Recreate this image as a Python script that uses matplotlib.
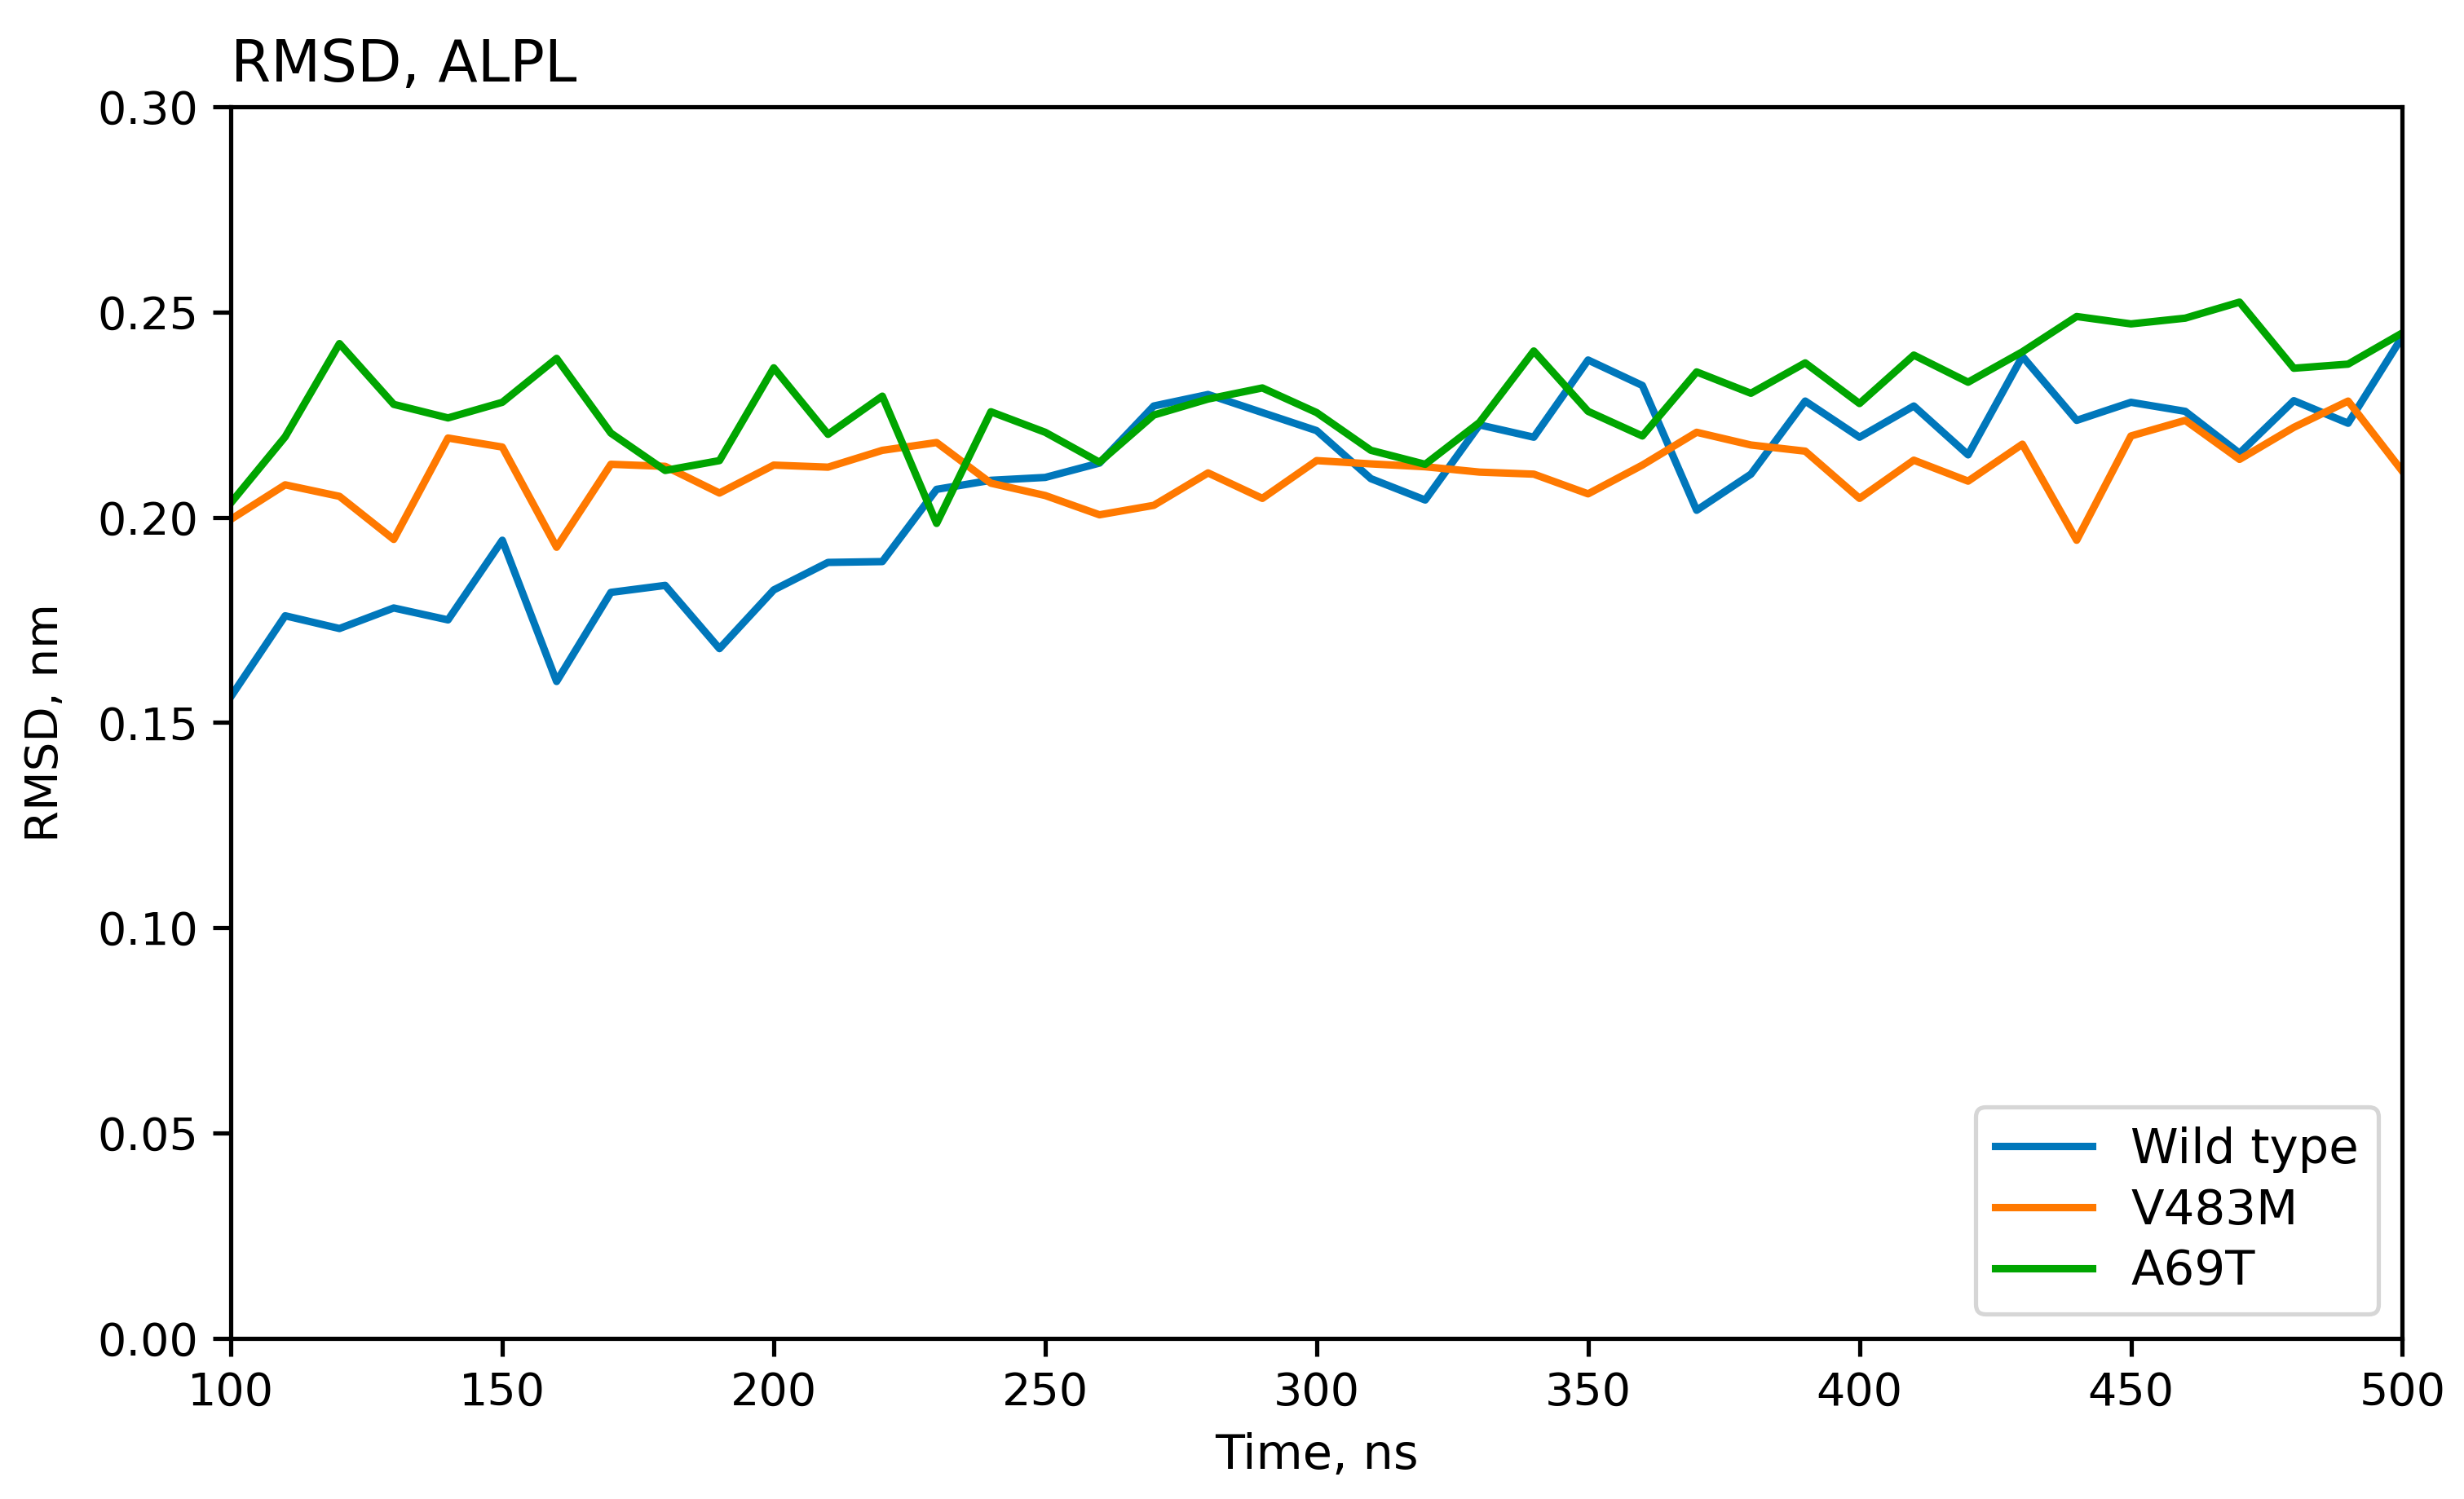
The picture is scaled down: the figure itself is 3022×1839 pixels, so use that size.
import numpy as np
import matplotlib
matplotlib.use("Agg")
import matplotlib.pyplot as plt

time_ns = list(range(100, 501, 10))

wild_type = [0.1563, 0.1760, 0.1729, 0.1779, 0.1750, 0.1944, 0.1600, 0.1817, 0.1834, 0.1680,
             0.1823, 0.1890, 0.1892, 0.2068, 0.2090, 0.2097, 0.2132, 0.2271, 0.2299, 0.2255,
             0.2211, 0.2094, 0.2042, 0.2225, 0.2195, 0.2383, 0.2321, 0.2017, 0.2105, 0.2283,
             0.2195, 0.2271, 0.2152, 0.2392, 0.2236, 0.2280, 0.2258, 0.2156, 0.2284, 0.2229,
             0.2440]

v483m = [0.1995, 0.2079, 0.2051, 0.1946, 0.2193, 0.2171, 0.1927, 0.2129, 0.2124, 0.2059,
         0.2127, 0.2122, 0.2163, 0.2182, 0.2083, 0.2053, 0.2006, 0.2029, 0.2108, 0.2046,
         0.2138, 0.2130, 0.2123, 0.2110, 0.2105, 0.2057, 0.2127, 0.2207, 0.2176, 0.2161,
         0.2046, 0.2139, 0.2088, 0.2178, 0.1944, 0.2198, 0.2236, 0.2141, 0.2219, 0.2283,
         0.2112]

a69t = [0.2035, 0.2196, 0.2423, 0.2275, 0.2242, 0.2280, 0.2387, 0.2205, 0.2114, 0.2138,
        0.2364, 0.2202, 0.2295, 0.1985, 0.2257, 0.2207, 0.2134, 0.2249, 0.2288, 0.2315,
        0.2255, 0.2163, 0.2129, 0.2231, 0.2405, 0.2258, 0.2198, 0.2354, 0.2302, 0.2376,
        0.2277, 0.2395, 0.2329, 0.2403, 0.2489, 0.2471, 0.2485, 0.2524, 0.2363, 0.2373,
        0.2449]

labels = ["Wild type", "V483M", "A69T"]
colors = ["#0077BB", "#FF7900", "#00A500"]

fig = plt.figure(figsize=(3022 / 375, 1839 / 375), dpi=375)
ax = fig.add_axes([0.0937, 0.1072, 0.975 - 0.0937, 0.9288 - 0.1072])

for series, lab, col in zip([wild_type, v483m, a69t], labels, colors):
    ax.plot(time_ns, series, label=lab, color=col, linewidth=1.75)

ax.set_xlim(100, 500)
ax.set_ylim(0.0, 0.30)
ax.set_xticks([100, 150, 200, 250, 300, 350, 400, 450, 500])
ax.set_yticks([0.00, 0.05, 0.10, 0.15, 0.20, 0.25, 0.30])
ax.tick_params(labelsize=10.7, length=4.2, width=1.0)
for s in ax.spines.values():
    s.set_linewidth(1.0)
ax.set_xlabel("Time, ns", fontsize=11.3)
ax.set_ylabel("RMSD, nm", fontsize=10.8, labelpad=7)
ax.set_title("RMSD, ALPL", loc="left", fontsize=13.6)
ax.legend(loc="lower right", fontsize=11.4, labelspacing=0.3)

fig.savefig("out.png", dpi=375)
